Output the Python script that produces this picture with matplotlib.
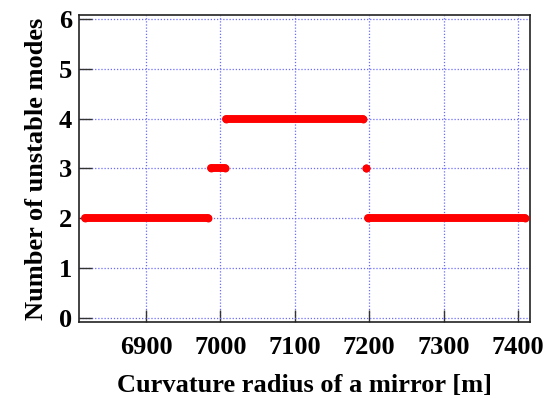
import matplotlib
matplotlib.use("Agg")
import matplotlib.pyplot as plt

# segments of constant number of unstable modes: start radius, end radius, count
seg_start = [6818, 6988, 7008, 7196, 7198]
seg_end = [6984, 7006, 7192, 7196, 7409]
seg_modes = [2, 3, 4, 3, 2]

xticks = [6900, 7000, 7100, 7200, 7300, 7400]
yticks = [0, 1, 2, 3, 4, 5, 6]

plt.rcParams['font.family'] = ['Liberation Serif', 'DejaVu Serif']
plt.rcParams['font.weight'] = 'bold'

fig = plt.figure(figsize=(5.45, 3.98), dpi=100)
ax = fig.add_axes([79/545, 1-322/398, (530-79)/545, (322-15)/398])

for x0, x1, m in zip(seg_start, seg_end, seg_modes):
    ax.plot([x0, x1], [m, m], color='red', lw=5.7, solid_capstyle='round',
            marker='o', ms=5.7, mew=0, mfc='red', zorder=3)

ax.set_xlim(6810, 7416)
ax.set_ylim(-0.09, 6.09)
ax.set_xticks(xticks)
ax.set_yticks(yticks)
ax.grid(True, color='#6b6bff', linestyle=(0, (1, 1.5)), lw=0.9)
ax.tick_params(direction='in', length=9, width=1, labelsize=19, color='#333333')
ax.tick_params(axis='x', pad=10)
ax.tick_params(axis='y', pad=5)
for lab in ax.get_xticklabels() + ax.get_yticklabels():
    lab.set_fontweight('bold')
for s in ax.spines.values():
    s.set_linewidth(1.2)
    s.set_color('#222222')

ax.set_xlabel('Curvature radius of a mirror [m]', fontsize=19, fontweight='bold', labelpad=11)
ax.set_ylabel('Number of unstable modes', fontsize=19, fontweight='bold', labelpad=8)

fig.savefig('out.png', dpi=100)
